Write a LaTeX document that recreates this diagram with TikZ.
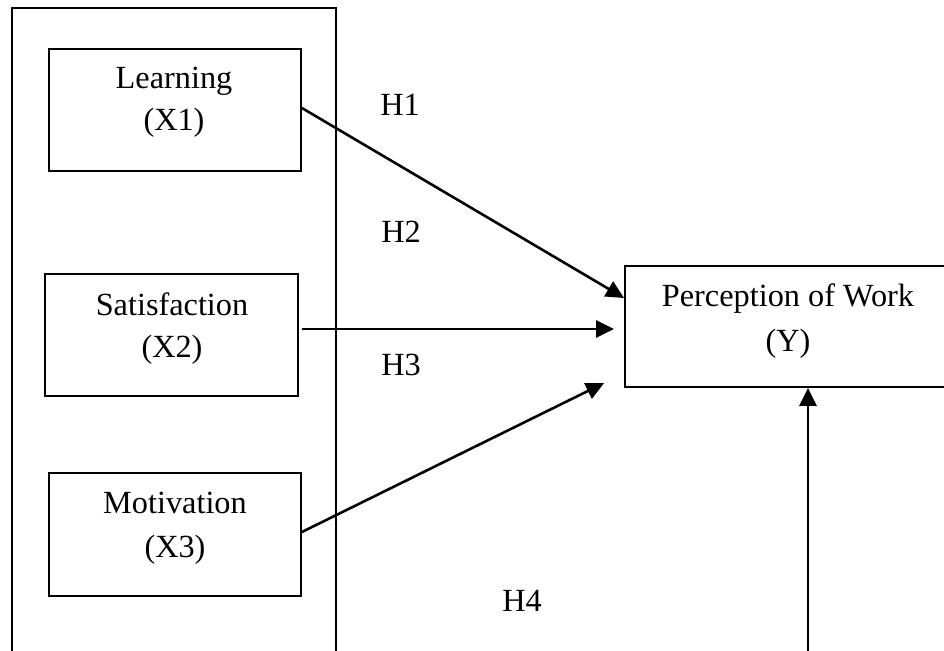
\documentclass[tikz,border=0pt]{standalone}
\usepackage{fontspec}
\setmainfont{Liberation Serif}
\usetikzlibrary{arrows.meta}
\begin{document}
\begin{tikzpicture}[x=1pt,y=-1pt,
  boxx/.style={draw=black, line width=1.8pt, inner sep=0pt, rectangle},
  lbl/.style={font=\fontsize{32.3}{38}\selectfont, anchor=base, inner sep=0pt},
  arr/.style={-{Triangle[length=18pt,width=17pt]}, line width=2.6pt},
  frame/.style={line width=2pt}
]
\useasboundingbox (0,0) rectangle (944,650);
% open outer frame
\coordinate (ob1) at (12,670);
\coordinate (ot1) at (12,8);
\coordinate (ot2) at (336,8);
\coordinate (ob2) at (336,670);
\draw[frame] (ob1) -- (ot1) -- (ot2) -- (ob2);
% boxes
\node[boxx, minimum width=252pt, minimum height=122pt] (learn) at (175,110) {};
\node[boxx, minimum width=253pt, minimum height=122pt] (sat) at (171.5,335) {};
\node[boxx, minimum width=252pt, minimum height=123pt] (mot) at (175,534.5) {};
\node[boxx, minimum width=340pt, minimum height=121pt] (perc) at (795,326.5) {};
% texts
\node[lbl] (learnA) at (174,89) {Learning};
\node[lbl] (learnB) at (174,130) {(X1)};
\node[lbl] (satA) at (172,315) {Satisfaction};
\node[lbl] (satB) at (172,357.5) {(X2)};
\node[lbl] (motA) at (175,513) {Motivation};
\node[lbl] (motB) at (175,557) {(X3)};
\node[lbl] (percA) at (788,306) {Perception of Work};
\node[lbl] (percB) at (788,351) {(Y)};
% hypothesis labels
\node[lbl] (h1) at (400,115) {H1};
\node[lbl] (h2) at (401,242) {H2};
\node[lbl] (h3) at (401,375) {H3};
\node[lbl] (h4) at (522,611) {H4};
% arrows
\draw[arr] ([yshift=2pt]learn.east) -- ([yshift=28.5pt]perc.west);
\draw[arr] ([xshift=3pt,yshift=6pt]sat.east) -- ([xshift=-10pt,yshift=-2.5pt]perc.west);
\draw[arr] ([yshift=2.5pt]mot.east) -- ([xshift=-20pt,yshift=-56.5pt]perc.west);
\coordinate (vb) at (808,670);
\draw[arr] (vb) -- (vb |- perc.south);
\end{tikzpicture}
\end{document}
